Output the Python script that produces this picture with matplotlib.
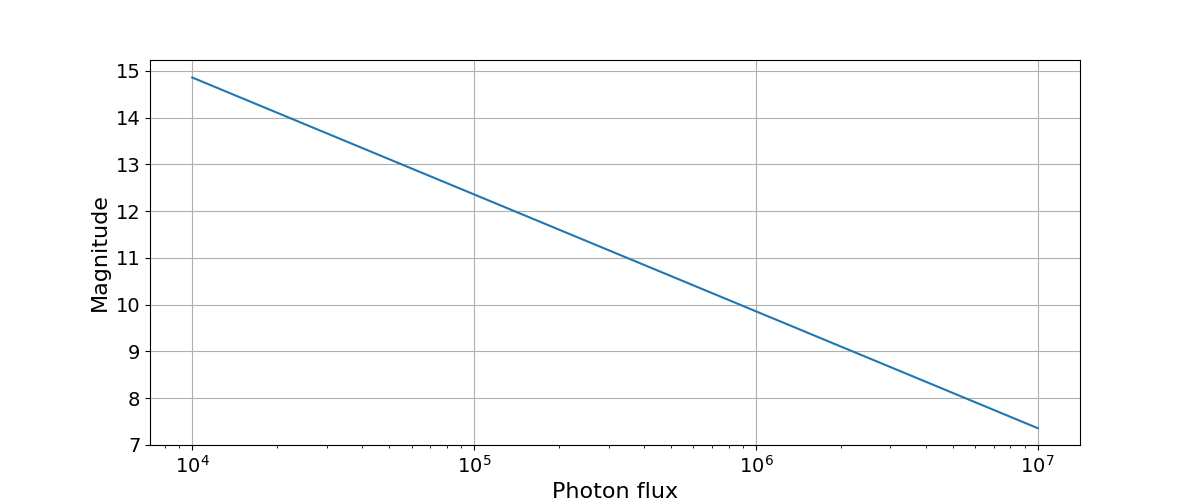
import matplotlib
matplotlib.use("Agg")
import matplotlib.pyplot as plt

# photon flux at each decade and the magnitude
flux = [1e4, 1e5, 1e6, 1e7]
magnitude = [14.86, 12.36, 9.86, 7.36]

fig = plt.figure(figsize=(12, 5), dpi=100)
ax = fig.add_subplot(111)

ax.plot(flux, magnitude, color="#1f77b4")
ax.set_xscale("log")
ax.grid(True)
ax.set_ylim(7, 15.235)
ax.set_xlabel("Photon flux", fontsize=16)
ax.set_ylabel("Magnitude", fontsize=16)
ax.tick_params(axis="both", which="major", labelsize=14)

fig.savefig("out.png")
